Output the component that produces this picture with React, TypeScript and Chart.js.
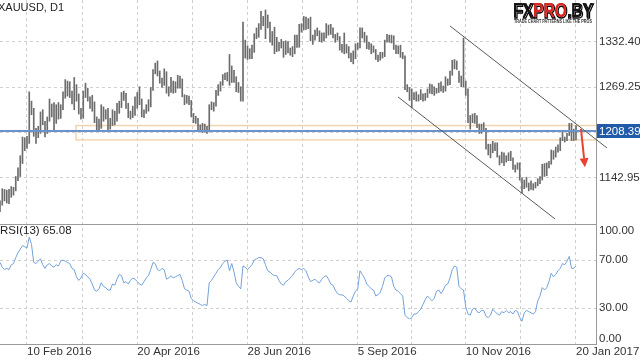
import React, { useEffect, useRef } from 'react';
import { Chart, registerables } from 'chart.js';

Chart.register(...registerables);

const FONT = '"Liberation Sans", Arial, Helvetica, sans-serif';

// Daily XAUUSD bars (index 0 = 25 Jan 2016 ... index 256 = 20 Jan 2017)
const highs = [
  1111, 1128, 1127, 1126, 1127, 1131, 1130, 1145, 1157, 1174,
  1200, 1199, 1201, 1263, 1250, 1240, 1212, 1215, 1235, 1238,
  1222, 1228, 1253, 1246, 1248, 1245, 1248, 1245, 1263, 1280,
  1278, 1277, 1264, 1283, 1273, 1260, 1240, 1264, 1275, 1268,
  1256, 1258, 1249, 1228, 1225, 1245, 1242, 1238, 1240, 1226,
  1238, 1236, 1247, 1250, 1262, 1264, 1261, 1247, 1236, 1243,
  1256, 1262, 1270, 1253, 1238, 1245, 1252, 1269, 1294, 1303,
  1306, 1292, 1282, 1295, 1291, 1270, 1283, 1278, 1277, 1286,
  1285, 1281, 1259, 1258, 1257, 1251, 1233, 1229, 1226, 1217,
  1219, 1218, 1215, 1245, 1249, 1248, 1265, 1273, 1277, 1287,
  1289, 1290, 1315, 1299, 1293, 1284, 1276, 1270, 1360, 1335,
  1327, 1323, 1328, 1344, 1352, 1358, 1375, 1368, 1377, 1370,
  1360, 1347, 1353, 1339, 1332, 1336, 1333, 1334, 1333, 1324,
  1326, 1342, 1342, 1357, 1358, 1368, 1367, 1365, 1367, 1342,
  1349, 1352, 1348, 1345, 1345, 1358, 1356, 1357, 1352, 1343,
  1345, 1340, 1329, 1345, 1329, 1326, 1317, 1320, 1330, 1331,
  1352, 1352, 1346, 1341, 1332, 1330, 1327, 1322, 1314, 1318,
  1318, 1335, 1343, 1342, 1342, 1341, 1328, 1327, 1328, 1318,
  1313, 1273, 1269, 1267, 1262, 1263, 1259, 1266, 1260, 1261,
  1267, 1274, 1273, 1270, 1268, 1275, 1277, 1271, 1284, 1281,
  1292, 1307, 1308, 1306, 1292, 1285, 1338, 1278, 1267, 1230,
  1232, 1233, 1230, 1218, 1218, 1220, 1212, 1190, 1190, 1194,
  1192, 1192, 1174, 1179, 1178, 1174, 1178, 1180, 1171, 1161,
  1164, 1164, 1143, 1140, 1144, 1136, 1139, 1135, 1137, 1142,
  1145, 1162, 1163, 1164, 1166, 1182, 1181, 1186, 1189, 1199,
  1207, 1200, 1205, 1219, 1219, 1211, 1216,
];

const lows = [
  1096, 1105, 1111, 1108, 1107, 1116, 1119, 1125, 1139, 1145,
  1163, 1181, 1184, 1191, 1231, 1201, 1191, 1199, 1205, 1217,
  1200, 1205, 1222, 1228, 1210, 1219, 1225, 1226, 1238, 1254,
  1257, 1255, 1246, 1238, 1250, 1232, 1225, 1226, 1255, 1250,
  1240, 1236, 1220, 1208, 1210, 1212, 1222, 1225, 1207, 1211,
  1216, 1217, 1222, 1233, 1241, 1251, 1240, 1227, 1225, 1227,
  1230, 1240, 1245, 1228, 1227, 1233, 1236, 1242, 1265, 1288,
  1285, 1275, 1269, 1272, 1261, 1257, 1262, 1261, 1262, 1268,
  1268, 1256, 1245, 1247, 1245, 1228, 1220, 1219, 1210, 1208,
  1206, 1207, 1205, 1207, 1238, 1236, 1243, 1258, 1264, 1272,
  1280, 1278, 1272, 1276, 1276, 1263, 1262, 1250, 1250, 1310,
  1308, 1309, 1309, 1318, 1337, 1339, 1350, 1355, 1337, 1352,
  1332, 1328, 1316, 1319, 1320, 1324, 1311, 1315, 1317, 1314,
  1312, 1316, 1325, 1325, 1346, 1349, 1350, 1351, 1334, 1329,
  1335, 1341, 1333, 1332, 1334, 1338, 1342, 1343, 1338, 1332,
  1335, 1321, 1318, 1316, 1317, 1310, 1305, 1302, 1309, 1322,
  1324, 1338, 1332, 1323, 1322, 1316, 1318, 1308, 1305, 1307,
  1310, 1312, 1332, 1332, 1331, 1322, 1316, 1316, 1311, 1309,
  1266, 1263, 1251, 1241, 1252, 1250, 1250, 1252, 1250, 1251,
  1255, 1261, 1260, 1258, 1261, 1262, 1264, 1262, 1264, 1272,
  1273, 1286, 1295, 1294, 1276, 1270, 1270, 1258, 1220, 1211,
  1220, 1219, 1213, 1205, 1205, 1210, 1183, 1175, 1171, 1178,
  1181, 1172, 1161, 1164, 1160, 1165, 1167, 1167, 1155, 1151,
  1155, 1140, 1122, 1128, 1130, 1125, 1127, 1126, 1129, 1132,
  1135, 1140, 1145, 1146, 1157, 1162, 1169, 1172, 1179, 1181,
  1195, 1193, 1195, 1202, 1195, 1195, 1196,
];

const rsi = [
  68, 64, 62, 63, 62, 66, 67, 72, 76, 79,
  82, 81, 80, 89, 83, 68, 67, 69, 71, 66,
  63, 66, 67, 65, 64, 66, 65, 69, 70, 69,
  68, 67, 63, 62, 56, 53, 55, 59, 58, 56,
  54, 50, 45, 44, 46, 51, 48, 47, 45, 45,
  50, 49, 54, 58, 57, 51, 52, 50, 53, 55,
  54, 52, 50, 49, 52, 55, 57, 62, 68, 67,
  62, 61, 63, 62, 54, 55, 57, 55, 56, 57,
  58, 53, 46, 45, 44, 38, 36, 35, 34, 33,
  32, 33, 32, 51, 53, 56, 59, 62, 64, 67,
  69, 70, 61, 67, 60, 51, 48, 46, 65, 64,
  62, 64, 66, 70, 71, 72, 72, 71, 66, 61,
  60, 58, 57, 57, 53, 50, 49, 52, 53, 55,
  57, 60, 62, 63, 62, 63, 61, 56, 52, 53,
  54, 52, 51, 54, 56, 57, 54, 50, 49, 45,
  42, 41, 41, 40, 38, 36, 35, 40, 44, 46,
  61, 58, 55, 50, 48, 46, 45, 40, 41, 43,
  48, 55, 57, 57, 56, 48, 45, 44, 42, 40,
  24, 22, 21, 22, 25, 25, 27, 29, 33, 37,
  40, 38, 36, 38, 44, 45, 42, 45, 49, 50,
  55, 62, 65, 64, 48, 46, 45, 31, 25, 24,
  29, 30, 27, 26, 28, 28, 23, 22, 24, 29,
  27, 25, 24, 27, 26, 28, 26, 27, 25, 28,
  27, 22, 19, 26, 28, 27, 26, 25, 27, 36,
  40, 47, 45, 47, 52, 59, 56, 58, 61, 63,
  67, 66, 69, 73, 63, 63, 65.08,
];

const priceTicks = [1142.95, 1206.1, 1269.25, 1332.4];
const rsiTicks = [30, 70];
const xTickIdx = [12, 36.5, 61, 85.5, 110, 134.5, 159, 183, 207, 231.5, 256];
const xTickLabels = ['10 Feb 2016', '', '20 Apr 2016', '', '28 Jun 2016', '', '5 Sep 2016', '', '10 Nov 2016', '', '20 Jan 2017'];

const symbolTitle = 'XAUUSD, D1';
const rsiTitle = 'RSI(13) 65.08';
const currentPrice = 1208.39;
const zone = { startIdx: 33.8, top: 1216, bottom: 1196 };
const upperChannel = [[200, 1354.7], [269.8, 1184.7]];
const lowerChannel = [[176.9, 1255.8], [246.7, 1085.8]];
const arrow = [[258.2, 1211.2], [260, 1158]];

const GRID = '#cfcfcf';
const AXIS = '#9a9a9a';
const TXT = '#333333';

const overlay = {
  id: 'overlay',
  beforeDatasetsDraw(chart: any) {
    const { ctx, scales, chartArea } = chart;
    const xs = scales.x, ys = scales.y;
    ctx.save();
    ctx.beginPath();
    ctx.rect(chartArea.left, ys.top, chartArea.right - chartArea.left, ys.bottom - ys.top);
    ctx.clip();
    const x0 = xs.getPixelForValue(zone.startIdx);
    const yT = ys.getPixelForValue(zone.top);
    const yB = ys.getPixelForValue(zone.bottom);
    ctx.strokeStyle = '#f3d4b0';
    ctx.lineWidth = 1.5;
    ctx.strokeRect(x0, yT, chartArea.right + 10 - x0, yB - yT);
    ctx.restore();
  },
  afterDatasetsDraw(chart: any) {
    const { ctx, scales, chartArea } = chart;
    const xs = scales.x, ys = scales.y;
    const yp = ys.getPixelForValue(currentPrice);
    ctx.save();
    ctx.strokeStyle = '#6a92cb';
    ctx.lineWidth = 2;
    ctx.beginPath();
    ctx.moveTo(chartArea.left, yp);
    ctx.lineTo(chartArea.right, yp);
    ctx.stroke();
    ctx.strokeStyle = '#5a5a5a';
    ctx.lineWidth = 1;
    for (const ln of [upperChannel, lowerChannel]) {
      ctx.beginPath();
      ctx.moveTo(xs.getPixelForValue(ln[0][0]), ys.getPixelForValue(ln[0][1]));
      ctx.lineTo(xs.getPixelForValue(ln[1][0]), ys.getPixelForValue(ln[1][1]));
      ctx.stroke();
    }
    const ax1 = xs.getPixelForValue(arrow[0][0]), ay1 = ys.getPixelForValue(arrow[0][1]);
    const ax2 = xs.getPixelForValue(arrow[1][0]), ay2 = ys.getPixelForValue(arrow[1][1]);
    const ang = Math.atan2(ay2 - ay1, ax2 - ax1);
    const hl = 9, hw = 4.5;
    const bx = ax2 - hl * Math.cos(ang), by = ay2 - hl * Math.sin(ang);
    ctx.strokeStyle = '#e8432e';
    ctx.fillStyle = '#e8432e';
    ctx.lineWidth = 2;
    ctx.beginPath();
    ctx.moveTo(ax1, ay1);
    ctx.lineTo(bx, by);
    ctx.stroke();
    ctx.beginPath();
    ctx.moveTo(ax2, ay2);
    ctx.lineTo(bx + hw * Math.sin(ang), by - hw * Math.cos(ang));
    ctx.lineTo(bx - hw * Math.sin(ang), by + hw * Math.cos(ang));
    ctx.closePath();
    ctx.fill();
    ctx.restore();
  },
  afterDraw(chart: any) {
    const { ctx, scales, chartArea } = chart;
    const ys = scales.y, y2 = scales.y2;
    ctx.save();
    ctx.strokeStyle = AXIS;
    ctx.lineWidth = 1;
    ctx.beginPath();
    ctx.moveTo(chartArea.left, Math.round(ys.bottom) + 0.5);
    ctx.lineTo(chartArea.right, Math.round(ys.bottom) + 0.5);
    ctx.stroke();
    ctx.font = '11px ' + FONT;
    ctx.fillStyle = '#222';
    ctx.textBaseline = 'middle';
    ctx.textAlign = 'left';
    ctx.fillText(symbolTitle, -2, 7.5);
    ctx.font = '11.5px ' + FONT;
    ctx.fillText(rsiTitle, 0, y2.top + 7);
    ctx.fillStyle = TXT;
    ctx.fillText('100.00', chartArea.right + 3, y2.top + 6.5);
    ctx.fillText('0.00', chartArea.right + 3, y2.bottom - 5);
    const yp = ys.getPixelForValue(currentPrice);
    ctx.fillStyle = '#1f5ba8';
    ctx.fillRect(chartArea.right + 1, yp - 7, 50, 14);
    ctx.fillStyle = '#ffffff';
    ctx.fillText(currentPrice.toFixed(2), chartArea.right + 3, yp + 0.5);
    // logo
    ctx.textBaseline = 'alphabetic';
    ctx.font = 'bold 20px ' + FONT;
    const parts: [string, string][] = [['FX', '#151515'], ['PRO', '#e2241f'], ['.BY', '#151515']];
    const total = parts.reduce((s, p) => s + ctx.measureText(p[0]).width, 0);
    const sx = 80 / total;
    ctx.save();
    ctx.translate(513, 17);
    ctx.scale(sx, 1);
    let lx = 0;
    for (const [t, c] of parts) {
      ctx.lineWidth = 1.5;
      ctx.strokeStyle = '#000';
      ctx.strokeText(t, lx + 0.8, 0.8);
      ctx.fillStyle = c;
      ctx.fillText(t, lx, 0);
      lx += ctx.measureText(t).width;
    }
    ctx.restore();
    ctx.font = 'bold 5px ' + FONT;
    ctx.fillStyle = '#333';
    ctx.fillText('TRADE CHART PATTERNS LIKE THE PROS', 514, 22.5, 78);
    ctx.restore();
  },
};

export default function App() {
  const ref = useRef<HTMLCanvasElement>(null);
  useEffect(() => {
    const canvas = ref.current;
    if (!canvas) return;
    const tickFont = { family: FONT, size: 11.5 };
    const chart = new Chart(canvas, {
      type: 'bar',
      data: {
        datasets: [
          {
            type: 'line',
            label: 'RSI(13)',
            data: rsi.map((v, i) => ({ x: i, y: v })),
            borderColor: '#73a2da',
            borderWidth: 1,
            pointRadius: 0,
            tension: 0,
            xAxisID: 'x',
            yAxisID: 'y2',
          } as any,
          {
            type: 'bar',
            label: 'XAUUSD',
            data: highs.map((h, i) => ({ x: i, y: [lows[i], h] })),
            backgroundColor: '#6c6c6c',
            borderWidth: 0,
            barThickness: 1,
            xAxisID: 'x',
            yAxisID: 'y',
          } as any,
        ],
      },
      options: {
        responsive: false,
        animation: false,
        layout: { padding: 0 },
        plugins: { legend: { display: false }, tooltip: { enabled: false }, title: { display: false } },
        scales: {
          x: {
            type: 'linear',
            position: 'bottom',
            offset: false,
            min: 0,
            max: 264.89,
            afterBuildTicks: (s: any) => { s.ticks = xTickIdx.map((v) => ({ value: v })); },
            afterFit: (s: any) => { s.height = 16; s.paddingLeft = 0; s.paddingRight = 0; },
            ticks: {
              autoSkip: false, maxRotation: 0, minRotation: 0, align: 'start', padding: 1,
              font: tickFont, color: TXT,
              callback: (_v: any, i: number) => xTickLabels[i],
            },
            grid: { color: GRID, lineWidth: 1, drawTicks: false, offset: false },
            border: { display: true, color: AXIS, dash: [3, 3] },
          },
          y: {
            type: 'linear',
            position: 'right',
            stack: 'panels',
            stackWeight: 224,
            min: 1078.8,
            max: 1390.9,
            afterBuildTicks: (s: any) => { s.ticks = priceTicks.map((v) => ({ value: v })); },
            afterFit: (s: any) => { s.width = 44; s.paddingTop = 0; s.paddingBottom = 0; },
            ticks: { padding: 3, font: tickFont, color: TXT, callback: (v: any) => Number(v).toFixed(2) },
            grid: { color: GRID, lineWidth: 1, drawTicks: false },
            border: { display: true, color: AXIS, dash: [3, 3] },
          },
          y2: {
            type: 'linear',
            position: 'right',
            stack: 'panels',
            stackWeight: 120,
            min: 0,
            max: 100,
            afterBuildTicks: (s: any) => { s.ticks = rsiTicks.map((v) => ({ value: v })); },
            afterFit: (s: any) => { s.width = 44; s.paddingTop = 0; s.paddingBottom = 0; },
            ticks: { padding: 3, font: tickFont, color: TXT, callback: (v: any) => Number(v).toFixed(2) },
            grid: { color: GRID, lineWidth: 1, drawTicks: false },
            border: { display: true, color: AXIS, dash: [3, 3] },
          },
        },
      } as any,
      plugins: [overlay],
    });
    return () => chart.destroy();
  }, []);
  return (
    <div style={{ position: 'fixed', left: 0, top: 0, width: 640, height: 360, background: '#ffffff' }}>
      <canvas ref={ref} width={640} height={360} style={{ display: 'block', width: 640, height: 360 }} />
    </div>
  );
}
